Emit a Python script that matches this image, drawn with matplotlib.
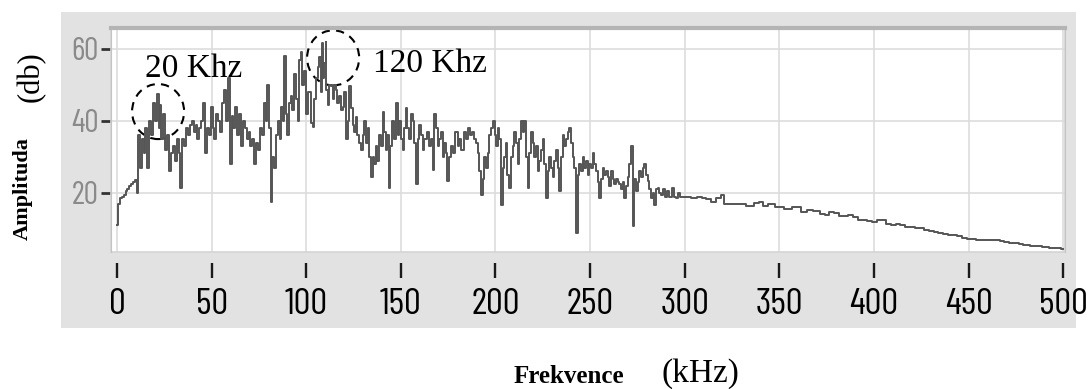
import matplotlib
matplotlib.use("Agg")
import matplotlib.pyplot as plt
from matplotlib.patches import Ellipse, Rectangle

# frekvence (kHz) a amplituda (db)
freq = [0, 1, 2, 3, 4, 5, 6, 7, 8, 9, 10, 11, 11.5, 12.5, 13.5, 14.5, 15.5, 16.5, 17.5, 18.5,
        19.5, 20.5, 21.5, 22.5, 23, 24, 25, 26, 27, 28, 29, 30, 31, 32, 33, 34, 35, 36, 37, 38,
        39, 40, 41, 42, 43, 44, 45, 46, 47, 48, 49, 50, 51, 52, 53, 54, 55, 56, 57, 58,
        59, 60, 61, 62, 63, 64, 65, 66, 67, 68, 69, 70, 71, 72, 73, 74, 75, 76, 77, 78,
        79, 80, 81, 81.7, 82.5, 83.5, 84.5, 85.5, 86.5, 87, 88, 88.7, 89.6, 90.5, 91.4, 92.3, 93, 94, 95, 95.8,
        96.7, 97.5, 98.5, 99.5, 100.5, 101.5, 103, 103.8, 104.5, 105.5, 106.6, 107.3, 108, 108.5, 109, 110,
        110.5, 110.8, 111.7, 112.5, 113.5, 114.3, 115, 116, 117, 117.9, 118.8, 119.6, 120.5, 121.4, 122.2, 123,
        124, 125, 125.8, 126.6, 127.5, 128.4, 129.3, 130.2, 131, 132, 132.8, 133.7, 134.6, 135.5, 136.4, 137.2,
        138, 139, 140, 140.8, 141.6, 142.5, 143.3, 144, 145, 146, 147, 147.8, 148.7, 149.6, 150.5, 151.3,
        152.2, 153, 154, 154.9, 155.8, 156.6, 157.5, 158.4, 159.2, 160, 161, 161.9, 163, 164.5, 165.5, 166.4,
        167.2, 168, 169, 170, 170.7, 171.6, 172.5, 173.5, 174.2, 175, 176, 176.9, 178, 179.5, 180.4, 181.3,
        182.5, 184, 185, 185.7, 187, 188.4, 189.2, 190, 191, 191.8, 192.7, 193.6, 194.5, 195.4, 196.2, 197,
        198, 199, 200, 200.7, 201.5, 202.4, 203.3, 204.2, 205, 205.9, 206.8, 207.7, 208.6, 209.5, 210.4, 211.2,
        212.1, 213, 213.9, 214.8, 215.6, 216.5, 217.4, 218.3, 219.2, 220, 220.9, 221.8, 222.7, 223.5, 224.4, 225.3,
        226.2, 227, 228, 228.9, 229.8, 230.6, 231.5, 232.4, 233.2, 234.1, 235, 235.9, 236.8, 237.7, 238.5, 239.4,
        240.3, 241.2, 242.1, 243, 243.9, 244.8, 245.6, 246.5, 247.4, 248.3, 249.1, 250, 250.9, 251.8, 252.7, 253.5,
        254.4, 255.3, 256.2, 257, 258, 258.8, 259.7, 260.6, 261.4, 262.3, 263.2, 264.1, 265, 265.9, 266.8, 267.6,
        268.5, 269.4, 270.3, 271.2, 272, 272.9, 273.8, 274.7, 275.6, 276.5, 277.3, 278.2, 279, 280, 280.8, 281.7,
        282.6, 283.5, 284.3, 285.2, 286.1, 287, 287.9, 289, 290, 291.4, 292.5, 294, 295, 295.8, 297, 298.5,
        300, 302, 305, 308, 310, 313, 315, 318, 320, 322, 326, 330, 335, 338, 340, 343,
        345, 350, 355, 358, 360, 363, 366, 370, 373, 375, 378, 380, 383, 385, 388, 390,
        393, 395, 398, 400, 403, 405, 408, 410, 413, 415, 418, 420, 423, 425, 428, 430,
        433, 435, 438, 440, 443, 445, 448, 450, 453, 455, 460, 465, 468, 470, 473, 475,
        478, 480, 485, 488, 490, 495, 498, 500]
amp = [11, 17, 18.5, 19, 19.5, 20.5, 21, 22, 22.5, 23, 23.5, 20, 36, 27, 35, 31, 38, 27, 40, 36,
       45, 40, 47.5, 38, 44.5, 35, 42, 32, 36, 26, 31, 33, 29, 35, 31, 21.5, 35, 33, 38, 36,
       39, 40, 37, 39, 35, 38, 40, 45, 31, 38, 36, 44, 38, 35, 42, 40, 37, 45, 48.5, 40,
       52, 28, 41.5, 38, 44, 36, 42, 33, 40, 38, 35, 37, 33, 35, 28, 34, 32, 38, 36, 45,
       40, 50, 38, 17.5, 30, 27, 36, 40, 35, 44, 40, 58, 42, 36, 45, 47, 43, 53, 46, 40,
       57, 59, 50, 54, 42, 48, 39.5, 38.3, 46, 52, 55, 57.8, 48, 61.5, 52, 56,
       62, 48.7, 44.3, 50, 49.6, 46, 50, 48.7, 45, 47, 43, 44, 48, 35, 40, 49.6,
       43.5, 39, 37, 41, 36, 34, 32, 36, 40, 34, 38, 30, 24.4, 30, 28, 33,
       29, 36, 33, 42.6, 37, 32, 36, 21.5, 33, 40, 35, 45, 36, 40, 35, 32,
       38, 43.5, 38, 35, 42, 40, 34, 22.4, 35, 39, 36, 32, 35, 37, 33, 35,
       26.3, 42, 38, 33, 35, 37, 30, 34, 31, 23.4, 30, 33, 31, 37, 33, 35,
       32, 37, 35, 38, 36, 37, 35, 34, 31, 26, 19.5, 24, 30, 27, 31, 36,
       38, 40, 36, 33, 38, 35, 16.6, 27, 30, 34, 25, 21.5, 30, 33, 37, 34,
       28, 35, 40, 37, 40, 30, 21.5, 31, 37, 34, 30, 33, 26, 29, 32, 35,
       28, 18.5, 26, 30, 27, 24.4, 29, 32, 27, 20.5, 30, 36, 33, 35, 37, 38,
       34, 30, 27, 8.8, 25, 28, 26, 30, 27, 29, 25, 28, 27, 31, 28, 26,
       23, 18.5, 24, 27, 25, 26, 24.4, 22, 26, 24, 22.4, 24, 23, 22.4, 21, 23,
       18.5, 22, 24.4, 28, 33, 10.7, 24, 20.5, 23, 26, 24.4, 27, 28, 25, 23.4, 21,
       18.5, 20, 16.6, 21, 21.5, 20, 19.5, 21, 19, 20.5, 19, 21.5, 19, 18.5, 20, 19,
       19, 18.8, 18.5, 19, 18.7, 18.2, 17.5, 18.5, 19.5, 17, 17, 16.8, 16.5, 17.3, 17.5, 16.5,
       16.8, 16, 15.5, 16.2, 16, 14.8, 15.2, 15, 14.2, 14, 14.7, 14.5, 13.6, 13.5, 13.8, 13.2,
       12.6, 12.5, 12.3, 12, 12.6, 12.5, 11.3, 11, 11.4, 11.2, 10.6, 10.5, 10.4, 10.3, 9.6, 9.4,
       9.2, 9, 8.6, 8.4, 8.3, 8, 7.6, 7.2, 7.1, 7, 6.8, 6.8, 6.7, 6.5, 6.1, 6,
       5.7, 5.5, 5.3, 5.2, 5, 4.8, 4.6, 4.5]

x_ticks = [0, 50, 100, 150, 200, 250, 300, 350, 400, 450, 500]
y_ticks = [20, 40, 60]

# popisky spicek: text, pozice textu, stred kruhu
peak_labels = ["20 Khz", "120 Khz"]
label_pos = [(14.8, 52.2), (135.3, 53.6)]
circle_pos = [(21.7, 42.6), (114.2, 57.5)]

narrow = ["Barlow Condensed", "Archivo Narrow", "DejaVu Sans"]
serif = ["Liberation Serif", "DejaVu Serif"]

fig = plt.figure(figsize=(10.88, 3.89), dpi=100)

# sedy panel za grafem
fig.patches.append(Rectangle((0.056, 0.157), 0.933, 0.812, transform=fig.transFigure,
                             facecolor="#e2e2e2", edgecolor="none", zorder=-10))

ax = fig.add_axes([0.102, 0.3522, 0.8769, 0.5758])
ax.set_facecolor("white")
ax.plot(freq, amp, color="#555555", linewidth=1.4, drawstyle="steps-mid")

for (tx, ty), t in zip(label_pos, peak_labels):
    ax.text(tx, ty, t, fontsize=24, family=serif, va="baseline", ha="left")
for c in circle_pos:
    ax.add_patch(Ellipse(c, 27.5, 15.3, fill=False, edgecolor="black",
                         linewidth=1.5, linestyle=(0, (4, 3))))

ax.set_xlim(-3.2, 501)
ax.set_ylim(3.6, 65.8)
ax.set_xticks(x_ticks)
ax.set_yticks(y_ticks)
ax.grid(True, color="#dddddd", linewidth=1.2)
ax.set_axisbelow(True)

for s in ["left", "right"]:
    ax.spines[s].set_color("#c4c4c4")
ax.spines["top"].set_color("#b4b4b4")
ax.spines["top"].set_linewidth(3)
ax.spines["bottom"].set_position(("outward", 8))
ax.spines["bottom"].set_color("none")
ax.add_patch(Rectangle((0, 0), 1, 1, transform=ax.transAxes, fill=False,
                       edgecolor="#d4d4d4", linewidth=1.2, clip_on=False))

ax.tick_params(axis="x", direction="out", length=11, width=1.7, color="#1a1a1a",
               pad=7, labelsize=27)
ax.tick_params(axis="y", direction="out", length=7, width=2, color="#333333",
               pad=2, labelsize=23, labelcolor="#8a8a8a")
for lab in ax.get_xticklabels() + ax.get_yticklabels():
    lab.set_family(narrow)

fig.text(0.029, 0.802, "(db)", rotation=90, fontsize=22, family=serif,
         ha="center", va="center")
fig.text(0.021, 0.515, "Amplituda", rotation=90, fontsize=16, family=serif,
         weight="bold", ha="center", va="center")
fig.text(0.523, 0.033, "Frekvence", fontsize=18, family=serif, weight="bold",
         ha="center", va="center")
fig.text(0.644, 0.040, "(kHz)", fontsize=24, family=serif, ha="center", va="center")

fig.savefig("out.png", dpi=100)
